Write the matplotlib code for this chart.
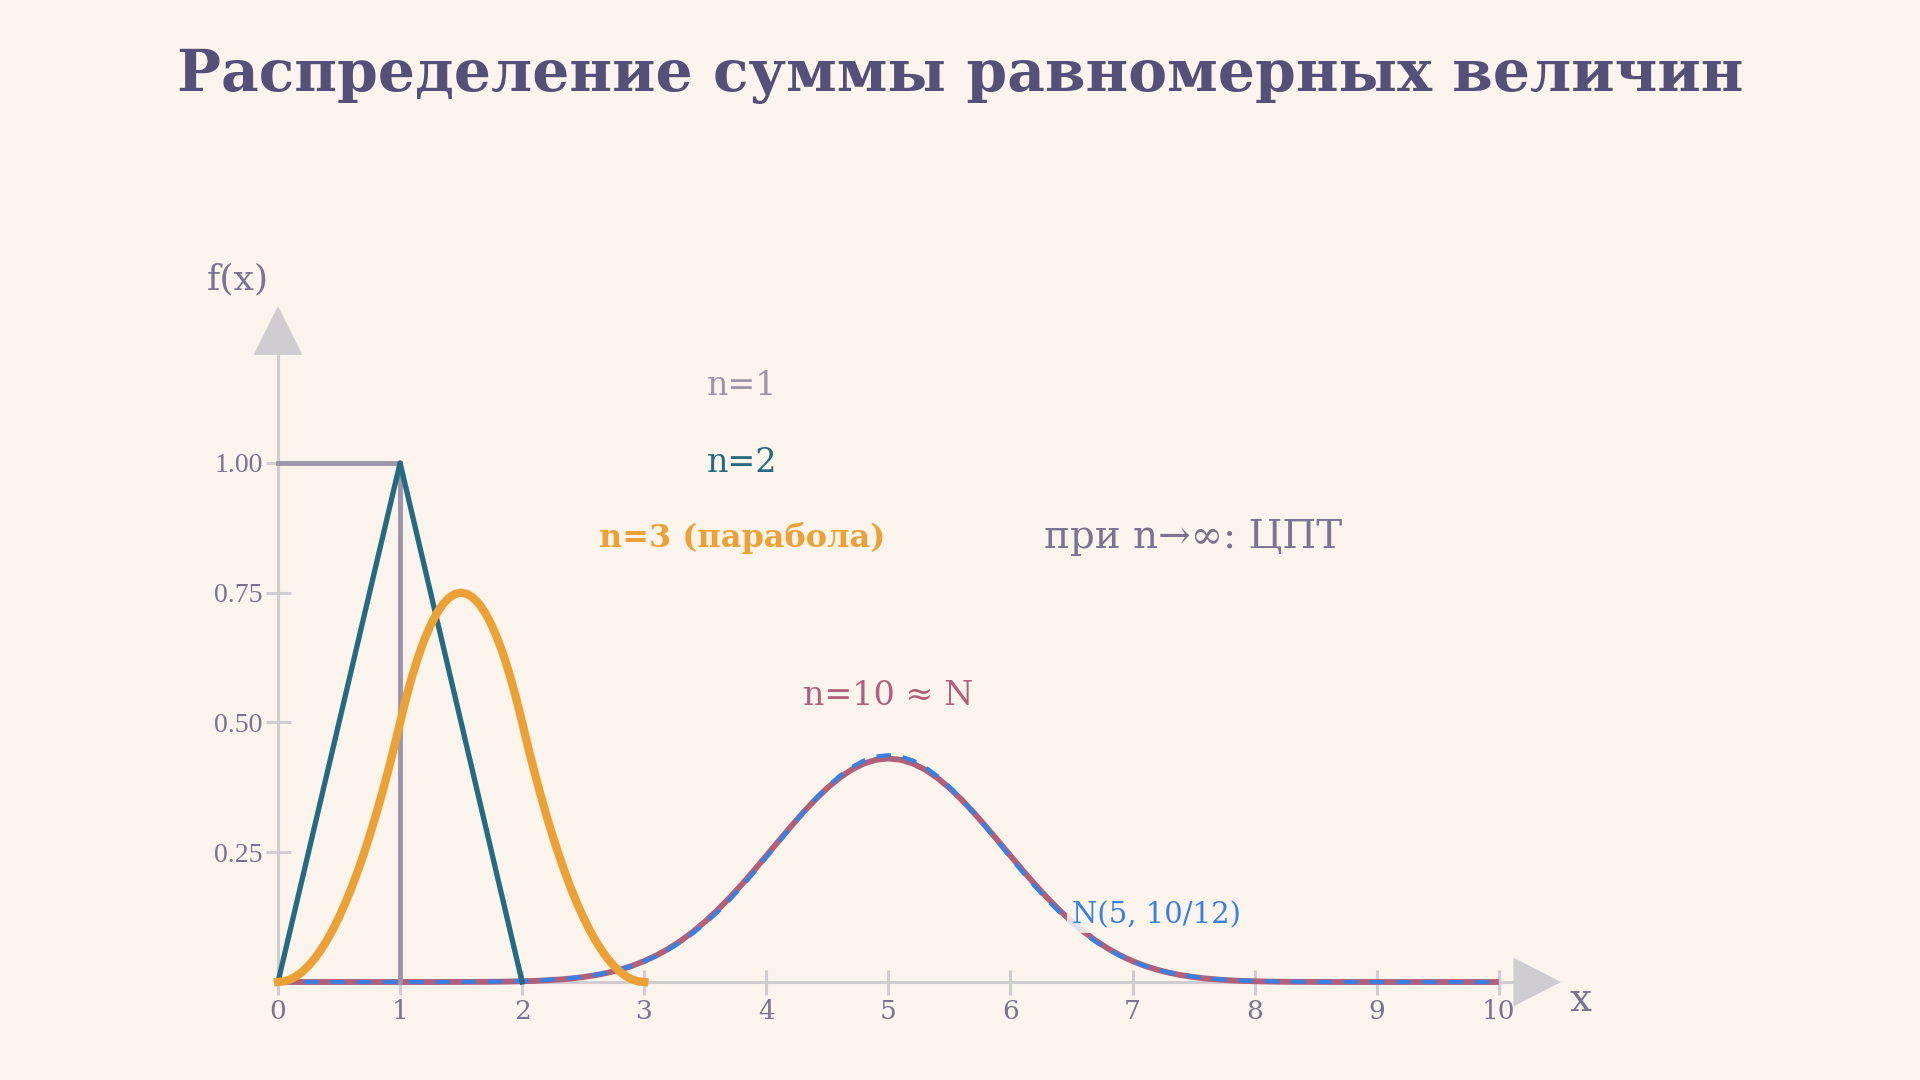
import numpy as np
import matplotlib
matplotlib.use("Agg")
import matplotlib.pyplot as plt
from matplotlib.patches import Polygon

# ---- data ----
n1_x = [0, 1, 1]
n1_y = [1.0, 1.0, 0.0]

n2_x = [0, 1, 2]
n2_y = [0.0, 1.0, 0.0]

n3_x = [0.0, 0.05, 0.1, 0.15, 0.2, 0.25, 0.3, 0.35, 0.4, 0.45, 0.5,
        0.55, 0.6, 0.65, 0.7, 0.75, 0.8, 0.85, 0.9, 0.95, 1.0,
        1.05, 1.1, 1.15, 1.2, 1.25, 1.3, 1.35, 1.4, 1.45, 1.5,
        1.55, 1.6, 1.65, 1.7, 1.75, 1.8, 1.85, 1.9, 1.95, 2.0,
        2.05, 2.1, 2.15, 2.2, 2.25, 2.3, 2.35, 2.4, 2.45, 2.5,
        2.55, 2.6, 2.65, 2.7, 2.75, 2.8, 2.85, 2.9, 2.95, 3.0]
n3_y = [0.0, 0.00125, 0.005, 0.01125, 0.02, 0.03125, 0.045, 0.06125, 0.08, 0.10125, 0.125,
        0.15125, 0.18, 0.21125, 0.245, 0.28125, 0.32, 0.36125, 0.405, 0.45125, 0.5,
        0.5475, 0.59, 0.6275, 0.66, 0.6875, 0.71, 0.7275, 0.74, 0.7475, 0.75,
        0.7475, 0.74, 0.7275, 0.71, 0.6875, 0.66, 0.6275, 0.59, 0.5475, 0.5,
        0.45125, 0.405, 0.36125, 0.32, 0.28125, 0.245, 0.21125, 0.18, 0.15125, 0.125,
        0.10125, 0.08, 0.06125, 0.045, 0.03125, 0.02, 0.01125, 0.005, 0.00125, 0.0]

n10_x = [0.0, 0.1, 0.2, 0.3, 0.4, 0.5, 0.6, 0.7, 0.8, 0.9,
         1.0, 1.1, 1.2, 1.3, 1.4, 1.5, 1.6, 1.7, 1.8, 1.9,
         2.0, 2.1, 2.2, 2.3, 2.4, 2.5, 2.6, 2.7, 2.8, 2.9,
         3.0, 3.1, 3.2, 3.3, 3.4, 3.5, 3.6, 3.7, 3.8, 3.9,
         4.0, 4.1, 4.2, 4.3, 4.4, 4.5, 4.6, 4.7, 4.8, 4.9,
         5.0, 5.1, 5.2, 5.3, 5.4, 5.5, 5.6, 5.7, 5.8, 5.9,
         6.0, 6.1, 6.2, 6.3, 6.4, 6.5, 6.6, 6.7, 6.8, 6.9,
         7.0, 7.1, 7.2, 7.3, 7.4, 7.5, 7.6, 7.7, 7.8, 7.9,
         8.0, 8.1, 8.2, 8.3, 8.4, 8.5, 8.6, 8.7, 8.8, 8.9,
         9.0, 9.1, 9.2, 9.3, 9.4, 9.5, 9.6, 9.7, 9.8, 9.9, 10.0]
n10_y = [0.0, 0.0, 0.0, 0.0, 0.0, 0.0, 0.0, 0.0, 0.0, 0.0,
         0.0, 0.0, 0.0, 0.0, 0.0001, 0.0001, 0.0002, 0.0003, 0.0005, 0.0009,
         0.0014, 0.0021, 0.0032, 0.0047, 0.0067, 0.0095, 0.0131, 0.0178, 0.0237, 0.0311,
         0.0403, 0.0512, 0.0642, 0.0794, 0.0969, 0.1166, 0.1386, 0.1625, 0.1882, 0.2152,
         0.2432, 0.2713, 0.2992, 0.3260, 0.3511, 0.3737, 0.3933, 0.4092, 0.4209, 0.4281,
         0.4305, 0.4281, 0.4209, 0.4092, 0.3933, 0.3737, 0.3511, 0.3260, 0.2992, 0.2713,
         0.2432, 0.2152, 0.1882, 0.1625, 0.1386, 0.1166, 0.0969, 0.0794, 0.0642, 0.0512,
         0.0403, 0.0311, 0.0237, 0.0178, 0.0131, 0.0095, 0.0067, 0.0047, 0.0032, 0.0021,
         0.0014, 0.0009, 0.0005, 0.0003, 0.0002, 0.0001, 0.0001, 0.0, 0.0, 0.0,
         0.0, 0.0, 0.0, 0.0, 0.0, 0.0, 0.0, 0.0, 0.0, 0.0, 0.0]

norm_y = [0.0, 0.0, 0.0, 0.0, 0.0, 0.0, 0.0, 0.0, 0.0, 0.0,
          0.0, 0.0, 0.0001, 0.0001, 0.0002, 0.0003, 0.0004, 0.0006, 0.0009, 0.0014,
          0.0020, 0.0028, 0.0040, 0.0055, 0.0076, 0.0103, 0.0138, 0.0183, 0.0239, 0.0310,
          0.0396, 0.0501, 0.0626, 0.0772, 0.0941, 0.1133, 0.1348, 0.1585, 0.1842, 0.2114,
          0.2398, 0.2688, 0.2977, 0.3257, 0.3521, 0.3761, 0.3970, 0.4140, 0.4267, 0.4344,
          0.4370, 0.4344, 0.4267, 0.4140, 0.3970, 0.3761, 0.3521, 0.3257, 0.2977, 0.2688,
          0.2398, 0.2114, 0.1842, 0.1585, 0.1348, 0.1133, 0.0941, 0.0772, 0.0626, 0.0501,
          0.0396, 0.0310, 0.0239, 0.0183, 0.0138, 0.0103, 0.0076, 0.0055, 0.0040, 0.0028,
          0.0020, 0.0014, 0.0009, 0.0006, 0.0004, 0.0003, 0.0002, 0.0001, 0.0001, 0.0,
          0.0, 0.0, 0.0, 0.0, 0.0, 0.0, 0.0, 0.0, 0.0, 0.0, 0.0]

x_ticks = [0, 1, 2, 3, 4, 5, 6, 7, 8, 9, 10]
y_ticks = [0.25, 0.50, 0.75, 1.00]
y_tick_labels = ["0.25", "0.50", "0.75", "1.00"]

title = "Распределение суммы равномерных величин"

# ---- colours ----
BG = "#faf4ed"
TITLE_C = "#55507a"
AXIS_C = "#d0ccd1"
LABEL_C = "#7a7394"
C1 = "#9d95aa"
C2 = "#256a80"
C3 = "#eca136"
C10 = "#b25f79"
CN = "#3a80e2"

plt.rcParams["font.family"] = ["DejaVu Serif"]

fig = plt.figure(figsize=(19.2, 10.8), dpi=100, facecolor=BG)
ax = fig.add_axes([0, 0, 1, 1])
ax.set_facecolor(BG)

# pixel mapping: x0 at 278 px, 122.08 px / unit; y0 at 982 px from top, 519.1 px / unit
ax.set_xlim(-278 / 122.08, (1920 - 278) / 122.08)
ax.set_ylim(-(1080 - 982) / 519.1, 982 / 519.1)

# axes lines through the origin
for s in ["top", "right"]:
    ax.spines[s].set_visible(False)
ax.spines["left"].set_position(("data", 0))
ax.spines["bottom"].set_position(("data", 0))
ax.spines["left"].set_bounds(0, 1.21)
ax.spines["bottom"].set_bounds(0, 10.12)
for s in ["left", "bottom"]:
    ax.spines[s].set_color(AXIS_C)
    ax.spines[s].set_linewidth(2.2)
    ax.spines[s].set_zorder(1)

ax.set_xticks(x_ticks)
ax.set_xticklabels([str(t) for t in x_ticks])
ax.set_yticks(y_ticks)
ax.set_yticklabels(y_tick_labels)
ax.tick_params(axis="both", direction="inout", length=18, width=2.2, color=AXIS_C,
               labelcolor=LABEL_C)
ax.tick_params(axis="x", labelsize=19, pad=3)
ax.tick_params(axis="y", pad=2)
for lab in ax.get_yticklabels():
    lab.set_family("Liberation Serif")
    lab.set_fontsize(20)

# arrow heads
ax.add_patch(Polygon([[-0.2, 1.208], [0.2, 1.208], [0, 1.302]], closed=True,
                     facecolor=AXIS_C, edgecolor="none", zorder=1))
ax.add_patch(Polygon([[10.12, -0.047], [10.12, 0.047], [10.51, 0]], closed=True,
                     facecolor=AXIS_C, edgecolor="none", zorder=1))

# curves
ax.plot(n10_x, n10_y, color=C10, lw=4.2, zorder=3, solid_capstyle="butt")
ax.plot(n10_x, norm_y, color=CN, lw=3.0, zorder=4, linestyle=(0, (3.5, 2.8)))
ax.plot(n1_x, n1_y, color=C1, lw=3.5, zorder=5, solid_joinstyle="miter")
ax.plot(n2_x, n2_y, color=C2, lw=3.8, zorder=5)
ax.plot(n3_x, n3_y, color=C3, lw=6.0, zorder=6)

# labels
ax.text(3.8, 1.148, "n=1", color=C1, fontsize=24, ha="center", va="center")
ax.text(3.8, 1.0, "n=2", color=C2, fontsize=24, ha="center", va="center")
ax.text(3.8, 0.856, "n=3 (парабола)", color=C3, fontsize=23, fontweight="bold",
        ha="center", va="center")
ax.text(7.5, 0.856, "при n→∞: ЦПТ", color=LABEL_C, fontsize=28, ha="center", va="center")
ax.text(5.0, 0.55, "n=10 ≈ N", color=C10, fontsize=24, ha="center", va="center")
ax.text(6.5, 0.129, "N(5, 10/12)", color=CN, fontsize=21, ha="left", va="center", zorder=7,
        bbox=dict(boxstyle="square,pad=0.15", facecolor=BG, edgecolor="none", alpha=0.85))
ax.text(-0.33, 1.353, "f(x)", color=LABEL_C, fontsize=26, ha="center", va="center")
ax.text(10.67, -0.035, "x", color=LABEL_C, fontsize=28, ha="center", va="center")

fig.text(0.5, 1 - 76 / 1080, title, color=TITLE_C, fontsize=42, fontweight="bold",
         ha="center", va="center")

fig.savefig("out.png", dpi=100, facecolor=BG)
